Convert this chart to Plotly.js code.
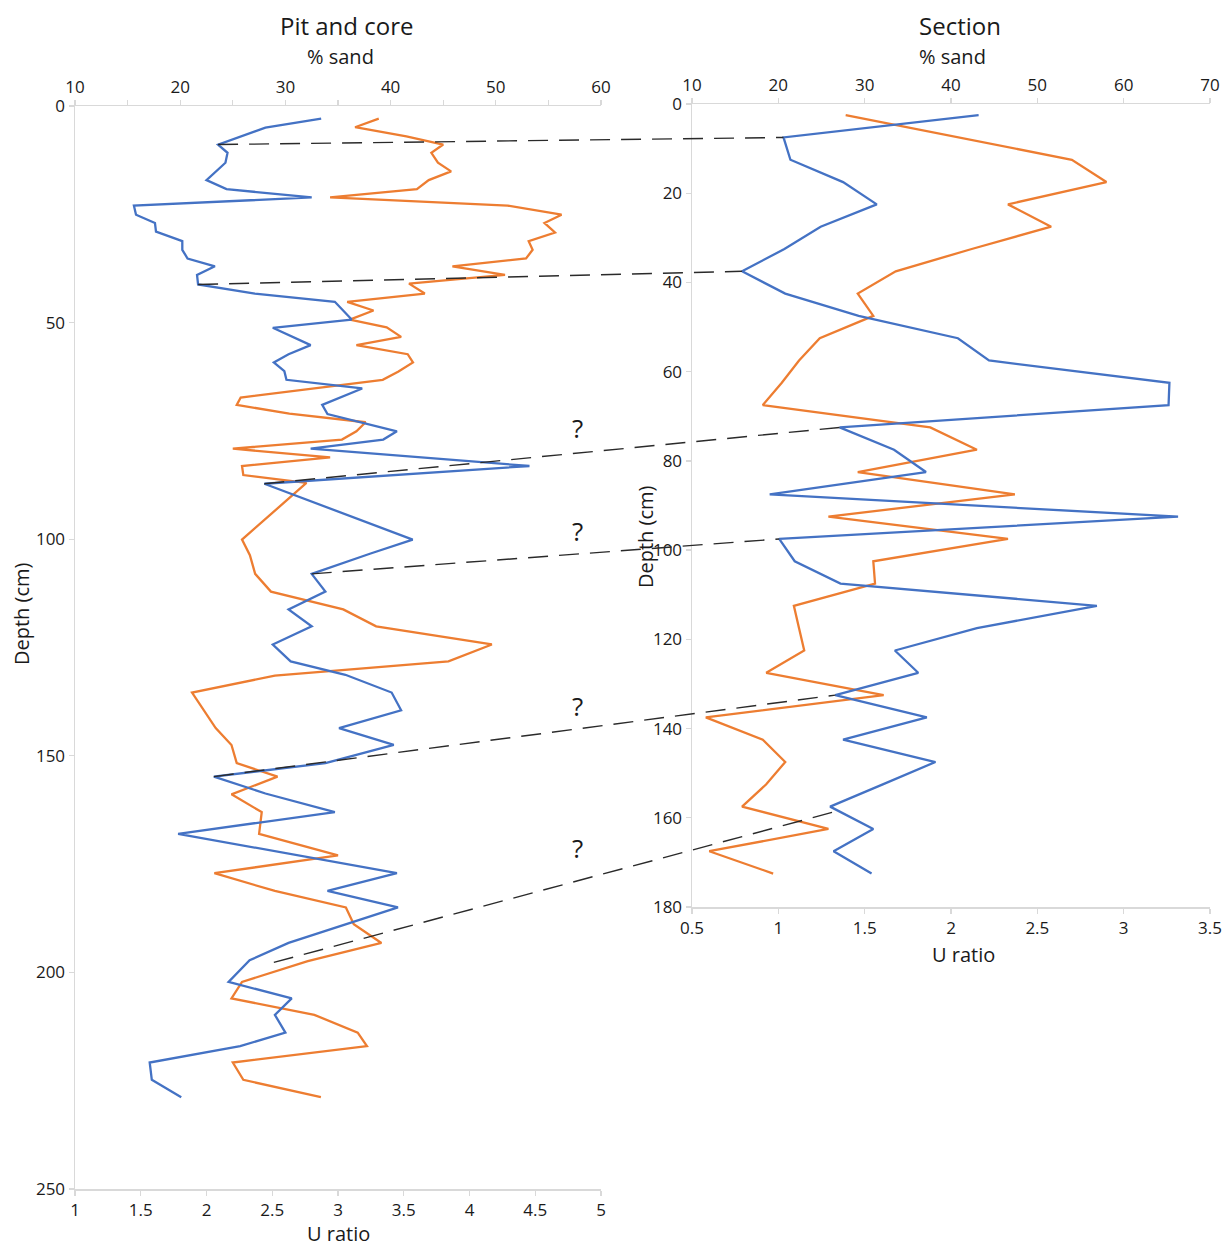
<!DOCTYPE html>
<html>
<head>
<meta charset="utf-8">
<script src="https://cdn.plot.ly/plotly-3.0.1.min.js"></script>
<style>
  html, body { margin: 0; padding: 0; background: #ffffff; }
  #chart { width: 1225px; height: 1248px; }
</style>
</head>
<body>
<div id="chart"></div>
<script>
// ---- Pit and core profile ----
const pitBlueDepth = [2.9, 4.6, 5.0, 8.9, 10.8, 13.1, 17.1, 19.2, 21.1, 23.0, 25.1, 27.0, 29.0, 31.2, 33.2, 35.2, 37.0, 39.0, 41.2, 43.3, 45.2, 49.3,
  51.2, 55.2, 57.3, 59.2, 61.2, 63.2, 65.2, 69.0, 71.1, 75.1, 77.0, 79.1, 83.1, 87.2, 100.1, 103.3, 108.0, 112.1, 116.2, 120.1, 124.3, 128.2,
  131.3, 135.4, 139.5, 143.6, 147.5, 151.7, 154.8, 158.7, 163.0, 168.0, 177.1, 181.2, 185.0, 193.2, 197.2, 202.2, 206.0, 209.8, 213.9, 217.0,
  220.8, 224.8, 228.8];
const pitBlueSand = [33.4, 28.9, 28.1, 23.6, 24.5, 24.3, 22.5, 24.4, 32.5, 15.6, 15.8, 17.6, 17.7, 20.2, 20.2, 20.7, 23.3, 21.6, 21.7, 27.1, 34.7, 36.3,
  28.8, 32.4, 30.3, 28.9, 29.9, 30.1, 37.3, 33.5, 34.0, 40.6, 39.3, 32.4, 53.2, 28.0, 42.1, 38.1, 32.5, 33.8, 30.3, 32.5, 28.8, 30.5,
  35.7, 40.1, 41.0, 35.1, 40.3, 33.8, 23.2, 28.1, 34.7, 19.8, 40.6, 34.0, 40.7, 30.3, 26.6, 24.6, 30.6, 29.0, 30.0, 25.7,
  17.1, 17.3, 20.1];

const pitOrangeDepth = [2.9, 4.9, 7.0, 8.9, 10.8, 13.1, 15.1, 17.1, 19.2, 21.1, 23.0, 25.1, 27.0, 29.2, 31.2, 33.2, 35.2, 37.0, 39.0, 41.0, 43.3, 45.2,
  47.2, 49.3, 51.1, 53.3, 55.2, 57.3, 59.2, 61.3, 63.2, 67.3, 69.0, 71.0, 73.0, 75.1, 77.0, 79.1, 81.1, 83.1, 85.2, 87.0, 100.1, 103.7,
  108.0, 112.1, 116.2, 120.1, 124.3, 128.2, 131.5, 135.4, 143.6, 147.5, 151.7, 154.8, 158.9, 163.0, 168.0, 173.0, 177.1, 181.2, 185.0,
  188.9, 193.2, 197.4, 202.2, 206.0, 209.8, 213.9, 217.0, 220.8, 224.8, 228.8];
const pitOrangeU = [3.31, 3.13, 3.52, 3.80, 3.71, 3.76, 3.86, 3.69, 3.60, 2.94, 4.29, 4.70, 4.57, 4.65, 4.45, 4.48, 4.43, 3.87, 4.27, 3.54, 3.66, 3.07,
  3.27, 3.09, 3.37, 3.48, 3.14, 3.53, 3.57, 3.46, 3.34, 2.26, 2.23, 2.63, 3.21, 3.14, 3.03, 2.20, 2.94, 2.27, 2.28, 2.76, 2.27, 2.33,
  2.37, 2.49, 3.04, 3.29, 4.17, 3.84, 2.52, 1.89, 2.07, 2.19, 2.23, 2.54, 2.19, 2.42, 2.40, 3.00, 2.06, 2.52, 3.06,
  3.12, 3.33, 2.77, 2.27, 2.19, 2.82, 3.15, 3.22, 2.20, 2.28, 2.87];

// ---- Section profile ----
const secDepth = [2.5, 7.5, 12.5, 17.5, 22.5, 27.5, 32.5, 37.5, 42.5, 47.5, 52.5, 57.5, 62.5, 67.5, 72.5, 77.5, 82.5, 87.5,
  92.5, 97.5, 102.5, 107.5, 112.5, 117.5, 122.5, 127.5, 132.5, 137.5, 142.5, 147.5, 152.5, 157.5, 162.5, 167.5, 172.5];
const secBlueSand = [43.2, 20.6, 21.4, 27.5, 31.4, 24.9, 20.7, 15.8, 20.8, 29.3, 40.8, 44.4, 65.3, 65.2, 27.1, 33.4, 37.1, 19.0,
  66.3, 20.1, 21.9, 27.2, 56.9, 43.0, 33.5, 36.2, 26.6, 37.2, 27.5, 38.2, 32.1, 26.0, 31.0, 26.4, 30.8];
const secOrangeU = [1.39, 2.04, 2.70, 2.90, 2.33, 2.58, 2.12, 1.68, 1.46, 1.55, 1.24, 1.12, 1.02, 0.91, 1.88, 2.15, 1.46, 2.37,
  1.29, 2.33, 1.55, 1.56, 1.09, 1.12, 1.15, 0.93, 1.61, 0.58, 0.91, 1.04, 0.93, 0.79, 1.29, 0.60, 0.97];

// ---- Correlation tie lines (pit/core % sand & depth -> section % sand & depth) ----
const tiePitSand = [23.6, 21.7, 28.0, 32.5, 23.2, 28.9];
const tiePitDepth = [8.9, 41.2, 87.2, 108.0, 154.8, 197.7];
const tieSecSand = [20.6, 15.8, 27.1, 20.1, 26.6, 26.8];
const tieSecDepth = [7.5, 37.5, 72.5, 97.5, 132.5, 158.5];

// Uncertain correlations, marked with a question mark
const queryDepth = [74.3, 98.1, 138.5, 171.3];
const queryLabel = '?';

// ---- Axis ranges ----
const pitURange = [1, 5], pitSandRange = [10, 60], pitDepthRange = [250, 0];
const secURange = [0.5, 3.5], secSandRange = [10, 70], secDepthRange = [180, 0];

const W = 1225, H = 1248;
const pitXDom = [75 / W, 601 / W];
const secXDom = [692 / W, 1210 / W];
const pitYDom = [1 - 1189 / H, 1 - 106 / H];
const secYDom = [1 - 907 / H, 1 - 104 / H];

const BLUE = '#4472C4', ORANGE = '#ED7D31';
const FONT = 'Open Sans, Noto Sans, sans-serif';
const TXT = '#1a1a1a';
const AXC = '#d9d9d9';

// Map a data value onto paper coordinates through an axis range and domain
function toPaper(v, range, dom) {
  return dom[0] + (v - range[0]) / (range[1] - range[0]) * (dom[1] - dom[0]);
}

const traces = [
  { x: pitBlueSand, y: pitBlueDepth, xaxis: 'x2', yaxis: 'y', type: 'scatter', mode: 'lines',
    line: { color: BLUE, width: 2.3 }, hoverinfo: 'skip' },
  { x: pitOrangeU, y: pitOrangeDepth, xaxis: 'x', yaxis: 'y', type: 'scatter', mode: 'lines',
    line: { color: ORANGE, width: 2.3 }, hoverinfo: 'skip' },
  { x: secBlueSand, y: secDepth, xaxis: 'x4', yaxis: 'y2', type: 'scatter', mode: 'lines',
    line: { color: BLUE, width: 2.3 }, hoverinfo: 'skip' },
  { x: secOrangeU, y: secDepth, xaxis: 'x3', yaxis: 'y2', type: 'scatter', mode: 'lines',
    line: { color: ORANGE, width: 2.3 }, hoverinfo: 'skip' }
];

const tickFont = { family: FONT, size: 17, color: TXT };
function baseAxis(extra) {
  return Object.assign({
    showline: true, linecolor: AXC, linewidth: 1.5,
    ticks: 'outside', ticklen: 5, tickwidth: 1.3, tickcolor: AXC,
    showgrid: false, zeroline: false, tickfont: tickFont, fixedrange: true
  }, extra);
}

const shapes = tiePitSand.map((s, i) => ({
  type: 'line', xref: 'paper', yref: 'paper', layer: 'above',
  x0: toPaper(s, pitSandRange, pitXDom),
  y0: toPaper(tiePitDepth[i], pitDepthRange, pitYDom),
  x1: toPaper(tieSecSand[i], secSandRange, secXDom),
  y1: toPaper(tieSecDepth[i], secDepthRange, secYDom),
  line: { color: '#2a2a2a', width: 1.4, dash: '20px,11px' }
}));

function label(text, px, py, size, angle) {
  return { text: text, xref: 'paper', yref: 'paper', x: px / W, y: 1 - py / H,
    xanchor: 'center', yanchor: 'middle', showarrow: false, textangle: angle || 0,
    font: { family: FONT, size: size, color: TXT } };
}

const annotations = [
  label('Pit and core', 346, 25, 24),
  label('% sand', 340, 57, 20),
  label('Section', 960, 25, 24),
  label('% sand', 952, 57, 20),
  label('U ratio', 338, 1233, 20),
  label('U ratio', 963, 955, 20),
  label('Depth (cm)', 21, 614, 20, -90),
  label('Depth (cm)', 645, 537, 20, -90)
].concat(queryDepth.map(d => ({
  text: queryLabel, xref: 'x2', yref: 'y', x: 57.8, y: d, xanchor: 'center', yanchor: 'middle',
  showarrow: false, font: { family: FONT, size: 26, color: TXT }
})));

const layout = {
  width: W, height: H,
  margin: { l: 0, r: 0, t: 0, b: 0, pad: 0 },
  paper_bgcolor: '#ffffff', plot_bgcolor: 'rgba(0,0,0,0)',
  showlegend: false,
  xaxis: baseAxis({ domain: pitXDom, range: pitURange, dtick: 0.5, tick0: 1, anchor: 'y', side: 'bottom' }),
  xaxis2: baseAxis({ domain: pitXDom, range: pitSandRange, dtick: 10, tick0: 10, anchor: 'y', side: 'top', overlaying: 'x',
    minor: { dtick: 5, ticks: 'outside', ticklen: 5, tickcolor: AXC, tickwidth: 1.3, showgrid: false } }),
  yaxis: baseAxis({ domain: pitYDom, range: pitDepthRange, dtick: 50, tick0: 0, anchor: 'x', side: 'left' }),
  xaxis3: baseAxis({ domain: secXDom, range: secURange, dtick: 0.5, tick0: 0.5, anchor: 'y2', side: 'bottom' }),
  xaxis4: baseAxis({ domain: secXDom, range: secSandRange, dtick: 10, tick0: 10, anchor: 'y2', side: 'top', overlaying: 'x3' }),
  yaxis2: baseAxis({ domain: secYDom, range: secDepthRange, dtick: 20, tick0: 0, anchor: 'x3', side: 'left' }),
  shapes: shapes,
  annotations: annotations
};

Plotly.newPlot('chart', traces, layout, { staticPlot: true, displayModeBar: false });
</script>
</body>
</html>
